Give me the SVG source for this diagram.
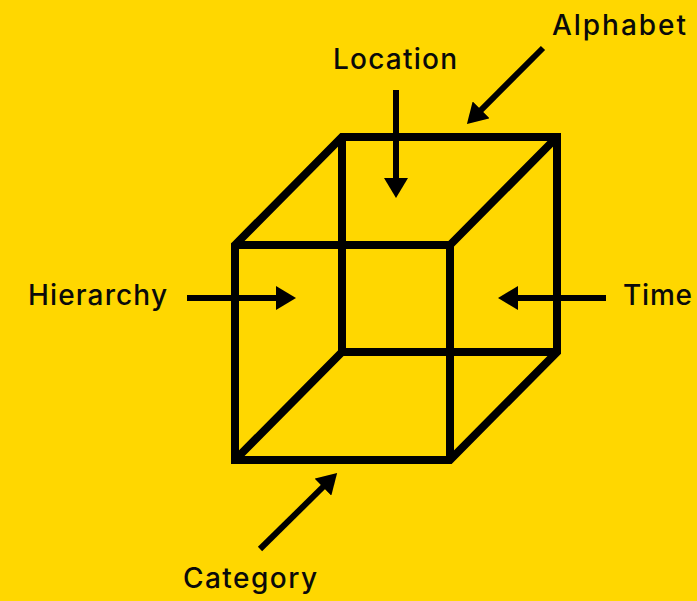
<svg xmlns="http://www.w3.org/2000/svg" width="697" height="601" viewBox="0 0 697 601">
<style>
.edge{fill:none;stroke:#000;stroke-width:8;stroke-linejoin:miter;stroke-linecap:butt}
.arr{fill:none;stroke:#000;stroke-width:6}
.lbl{font-family:Inter,"DejaVu Sans",sans-serif;font-size:28px;font-weight:500;fill:#0a0a0a}
</style>
<defs>
<marker id="ah" viewBox="0 0 20 24" refX="2" refY="12" markerWidth="20" markerHeight="24" markerUnits="userSpaceOnUse" orient="auto">
<path d="M0,0 L20,12 L0,24 Z" fill="#000"/>
</marker>
</defs>
<rect width="697" height="601" fill="#FFD700"/>
<g id="cube">
<path class="edge" d="M235,245 L342,137 L557,137 L557,352 L450,460 L235,460 Z"/>
<path class="edge" d="M235,245 L450,245 L450,460 M450,245 L557,137 M342,137 L342,352 L557,352 M342,352 L235,460"/>
</g>
<g id="connectors">
<line class="arr" x1="396" y1="90" x2="396" y2="180" marker-end="url(#ah)"/>
<line class="arr" x1="543" y1="48" x2="479.7" y2="111.3" marker-end="url(#ah)"/>
<line class="arr" x1="187" y1="298" x2="278" y2="298" marker-end="url(#ah)"/>
<line class="arr" x1="606" y1="298" x2="516" y2="298" marker-end="url(#ah)"/>
<line class="arr" x1="260" y1="549" x2="324.3" y2="485.7" marker-end="url(#ah)"/>
</g>
<g id="n-location"><text class="lbl" x="333" y="69" textLength="124">Location</text></g>
<g id="n-alphabet"><text class="lbl" x="552" y="35" textLength="134">Alphabet</text></g>
<g id="n-hierarchy"><text class="lbl" x="28" y="305" textLength="139">Hierarchy</text></g>
<g id="n-time"><text class="lbl" x="623" y="305" textLength="69">Time</text></g>
<g id="n-category"><text class="lbl" x="183" y="588" textLength="134">Category</text></g>
</svg>
